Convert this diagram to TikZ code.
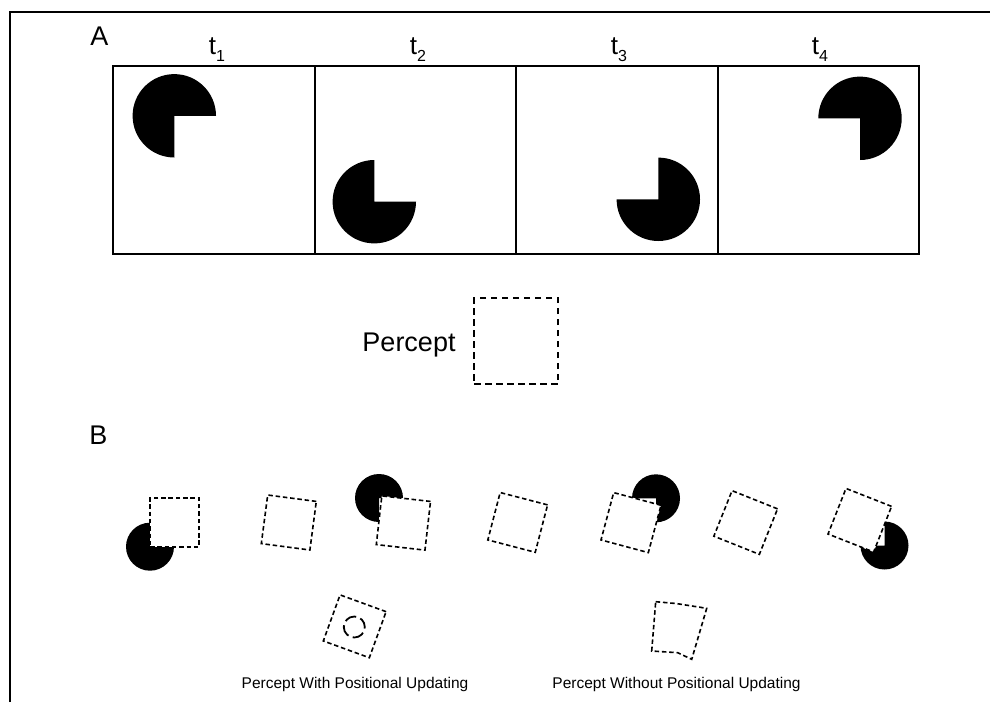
\documentclass[tikz,border=0pt]{standalone}
\usepackage{fontspec}
\setmainfont{Liberation Sans}
\newcommand{\mypac}[4]{\fill (#1,#2) -- ++({#4+90}:#3) arc[start angle={#4+90}, end angle={#4+360}, radius=#3] -- cycle;}
\tikzset{
  frameline/.style={line width=2pt},
  panelbox/.style={draw, line width=2pt, minimum width=201.5pt, minimum height=188pt, inner sep=0pt, outer sep=0pt},
  bsq/.style={draw, dash pattern=on 4.5pt off 2.8pt, line width=1.6pt, fill=white, minimum size=49pt, inner sep=0pt, outer sep=0pt},
  bigsq/.style={draw, dash pattern=on 6.5pt off 4.5pt, line width=2pt, minimum width=84pt, minimum height=86pt, inner sep=0pt, outer sep=0pt},
  lbl/.style={font=\fontsize{27}{30}\selectfont, inner sep=0pt, anchor=base},
  tlbl/.style={font=\fontsize{26}{30}\selectfont, inner sep=0pt, anchor=base},
  caplbl/.style={font=\fontsize{15.5}{18}\selectfont, inner sep=0pt, anchor=base},
}
\newcommand{\tsub}[1]{t\raisebox{-7pt}{\fontsize{16}{16}\selectfont #1}}
\begin{document}
\begin{tikzpicture}[x=1pt,y=-1pt]
\useasboundingbox (0,0) rectangle (990,702);
% frame
\coordinate (fbl) at (10,702);
\coordinate (ftl) at (10,12);
\coordinate (ftr) at (990,12);
\draw[frameline] (fbl) -- (ftl) -- (ftr);
% panel A
\node[lbl] (labA) at (99.5,45) {A};
\node[panelbox] (f1) at (214,159.5) {};
\node[panelbox] (f2) at (415.5,159.5) {};
\node[panelbox] (f3) at (617,159.5) {};
\node[panelbox] (f4) at (818.5,159.5) {};
\node[tlbl] (t1) at (217,54) {\tsub{1}};
\node[tlbl] (t2) at (418,54) {\tsub{2}};
\node[tlbl] (t3) at (619,54) {\tsub{3}};
\node[tlbl] (t4) at (820,54) {\tsub{4}};
\mypac{174.3}{115.8}{41.7}{0}
\mypac{374.3}{201.7}{41.7}{270}
\mypac{658.3}{199.3}{41.7}{180}
\mypac{860}{118.3}{41.7}{90}
% percept
\node[lbl, anchor=base] (perc) at (409,351) {Percept};
\node[bigsq] (psq) at (516,341) {};
% panel B
\node[lbl] (labB) at (98.5,444) {B};
\mypac{150}{546.7}{24}{270}
\mypac{379}{498}{24}{0}
\mypac{656}{498.3}{24}{90}
\mypac{884.5}{545.5}{24}{180}
\node[bsq] (s1) at (174.5,522.5) {};
\node[bsq, rotate=-7.5] (s2) at (288.8,522.5) {};
\node[bsq, rotate=-6.5] (s3) at (403.4,523) {};
\node[bsq, rotate=-14.6] (s4) at (517.7,522.4) {};
\node[bsq, rotate=-15] (s5) at (631,522.6) {};
\node[bsq, rotate=-21.8] (s6) at (745.7,522.5) {};
\node[bsq, rotate=-21.5] (s7) at (859.8,520.2) {};
% percepts
\node[bsq, rotate=-20] (pw) at (354.7,626.3) {};
\node[circle, draw, line width=1.8pt, dash pattern=on 12pt off 4.5pt, dash phase=2pt, minimum size=21pt, inner sep=0pt] (pwc) at (354.3,627) {};
\coordinate (q1) at (655.7,601.7);
\coordinate (q2) at (676,603.5);
\coordinate (q3) at (706.7,608.3);
\coordinate (q4) at (691.7,659.3);
\coordinate (q5) at (677.7,652.7);
\coordinate (q6) at (651.7,651);
\draw[dash pattern=on 4.5pt off 2.8pt, line width=1.6pt] (q1) -- (q2) -- (q3) -- (q4) -- (q5) -- (q6) -- cycle;
\node[caplbl] (cw) at (355,688) {Percept With Positional Updating};
\node[caplbl] (cwo) at (676.5,688) {Percept Without Positional Updating};
\end{tikzpicture}
\end{document}
